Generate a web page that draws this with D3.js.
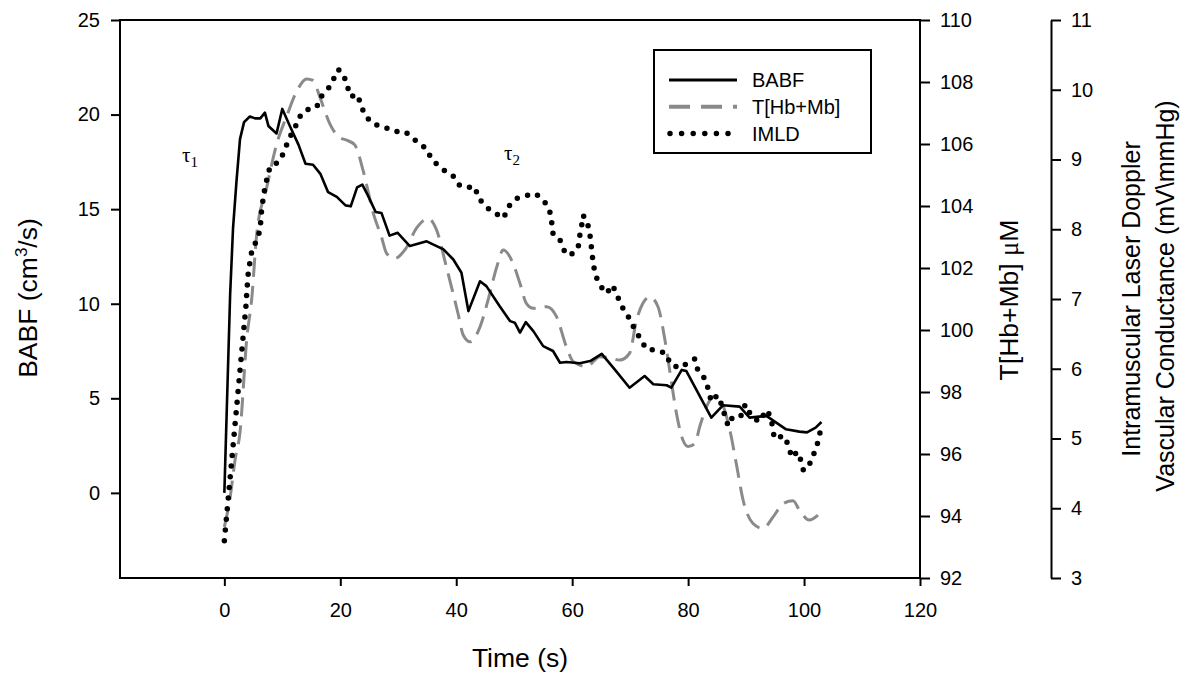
<!DOCTYPE html>
<html>
<head>
<meta charset="utf-8">
<script src="https://cdn.jsdelivr.net/npm/d3@7"></script>
<style>
  html, body { margin: 0; padding: 0; background: #fff; }
  svg { display: block; }
  text { font-family: "Liberation Sans", Arial, sans-serif; fill: #000; }
</style>
</head>
<body>
<svg id="chart" width="1185" height="677"></svg>
<script>
// ---------------- DATA ----------------
const xTicks = [0, 20, 40, 60, 80, 100, 120];
const leftTicks = [0, 5, 10, 15, 20, 25];
const rightTicks = [92, 94, 96, 98, 100, 102, 104, 106, 108, 110];
const farTicks = [3, 4, 5, 6, 7, 8, 9, 10, 11];

const seriesNames = ["BABF", "T[Hb+Mb]", "IMLD"];

// BABF (cm^3/s), left axis
const babfTime  = [0, 1.0, 1.5, 2.1, 2.7, 3.4, 4.4, 5.3, 6.2, 7.0, 7.6, 9.0, 10.0, 11.3, 12.8, 14.0, 15.3, 16.6, 17.9, 19.4, 20.9, 21.8, 22.9, 23.8, 24.8, 26.1, 27.1, 28.5, 29.9, 32.0, 34.9, 37.8, 39.5, 40.9, 42.1, 44.1, 45.2, 47.5, 49.3, 50.1, 51.0, 52.0, 53.3, 55.0, 56.7, 57.9, 59.0, 61.3, 63.1, 65.1, 67.4, 69.9, 72.5, 74.0, 76.3, 77.1, 78.9, 79.7, 84.0, 86.0, 88.9, 90.6, 93.5, 96.9, 99.2, 100.5, 102.0, 103.0];
const babfValue = [0, 10.5, 14.0, 16.5, 18.7, 19.6, 19.9, 19.8, 19.8, 20.1, 19.4, 19.0, 20.3, 19.4, 18.4, 17.4, 17.35, 16.85, 15.9, 15.65, 15.2, 15.15, 16.15, 16.3, 15.7, 14.85, 14.8, 13.6, 13.75, 13.05, 13.3, 12.87, 12.34, 11.64, 9.61, 11.19, 10.93, 9.87, 9.08, 9.0, 8.47, 9.03, 8.55, 7.76, 7.5, 6.88, 6.92, 6.85, 6.97, 7.35, 6.5, 5.56, 6.18, 5.74, 5.69, 5.56, 6.5, 6.44, 3.98, 4.63, 4.56, 3.98, 4.07, 3.36, 3.24, 3.2, 3.45, 3.75];

// T[Hb+Mb] (uM), right axis
const hbTime  = [0, 1.0, 1.84, 2.7, 3.86, 4.72, 5.59, 7.31, 9.03, 10.76, 12.48, 14.2, 15.3, 16.5, 18.2, 19.66, 21.4, 22.5, 24.0, 25.7, 27.1, 28.0, 29.4, 31.2, 33.2, 35.2, 36.6, 38.3, 40.3, 41.2, 42.4, 44.1, 45.5, 47.0, 48.1, 49.8, 51.0, 52.1, 53.3, 55.6, 57.3, 59.0, 60.2, 62.5, 64.8, 66.5, 68.2, 69.9, 71.1, 72.2, 73.4, 74.8, 76.0, 76.9, 78.0, 79.1, 80.0, 81.2, 82.0, 83.2, 84.3, 85.5, 87.2, 88.3, 89.5, 91.2, 92.9, 94.7, 96.4, 98.1, 99.2, 100.9, 102.4];
const hbValue = [93.65, 94.6, 95.8, 96.7, 99.7, 101.0, 103.1, 104.6, 106.0, 106.9, 107.7, 108.1, 108.05, 107.5, 106.65, 106.24, 106.1, 105.97, 105.1, 103.76, 103.0, 102.47, 102.31, 102.6, 103.3, 103.6, 103.23, 102.04, 100.54, 99.84, 99.62, 100.1, 100.97, 102.04, 102.58, 102.15, 101.5, 100.86, 100.7, 100.75, 100.43, 99.46, 98.98, 98.82, 99.14, 99.1, 99.03, 99.25, 100.32, 100.86, 101.07, 100.75, 99.68, 98.6, 97.3, 96.45, 96.24, 96.35, 96.88, 97.53, 97.85, 97.74, 96.77, 95.7, 94.5, 93.76, 93.6, 93.98, 94.4, 94.49, 94.19, 93.87, 94.03];

// IMLD (mV/mmHg), far right axis
const imldTime  = [0, 3.74, 3.86, 4.14, 4.72, 5.59, 6.16, 6.45, 7.02, 7.88, 9.48, 10.47, 11.03, 12.19, 12.76, 14.09, 15.93, 16.67, 17.83, 18.69, 19.66, 20.52, 21.21, 21.79, 23.0, 23.57, 24.38, 25.69, 27.41, 29.31, 31.16, 32.88, 34.9, 35.76, 37.48, 39.48, 40.64, 41.9, 43.22, 43.79, 45.12, 46.67, 48.22, 48.83, 50.38, 51.93, 53.74, 55.47, 56.24, 56.5, 56.72, 57.88, 58.57, 59.6, 61.03, 61.24, 61.62, 61.84, 62.45, 62.97, 63.22, 63.4, 63.62, 63.95, 64.66, 65.93, 66.97, 67.76, 68.52, 69.66, 70.64, 71.67, 72.79, 74.43, 76.16, 76.97, 78.57, 80.21, 81.16, 81.67, 83.05, 83.57, 84.0, 85.03, 85.76, 86.33, 86.9, 87.76, 89.21, 89.86, 90.93, 92.24, 93.57, 94.21, 94.6, 94.86, 96.5, 97.41, 97.83, 98.86, 99.43, 99.9, 101.28, 101.84, 102.53, 102.84];
const imldValue = [3.535, 6.914, 7.086, 7.39, 7.68, 7.85, 7.99, 8.30, 8.61, 8.90, 8.97, 9.14, 9.28, 9.45, 9.59, 9.71, 9.75, 9.90, 10.0, 10.13, 10.29, 10.23, 10.05, 9.90, 9.93, 9.77, 9.62, 9.51, 9.47, 9.40, 9.40, 9.28, 9.15, 9.0, 8.87, 8.76, 8.62, 8.60, 8.61, 8.455, 8.32, 8.23, 8.16, 8.31, 8.44, 8.48, 8.51, 8.37, 8.23, 8.08, 7.92, 7.85, 7.70, 7.62, 7.73, 7.88, 8.04, 8.20, 8.14, 7.98, 7.82, 7.67, 7.52, 7.36, 7.21, 7.08, 7.20, 7.05, 6.90, 6.75, 6.59, 6.44, 6.28, 6.27, 6.22, 6.06, 6.01, 6.10, 6.14, 5.98, 5.84, 5.67, 5.53, 5.62, 5.49, 5.33, 5.18, 5.32, 5.33, 5.49, 5.32, 5.24, 5.41, 5.31, 5.16, 5.0, 5.04, 4.885, 4.73, 4.81, 4.69, 4.54, 4.67, 4.82, 4.98, 5.13];

// ---------------- CHART ----------------
const svg = d3.select("#chart");
const L = 120, R = 920, T = 20, B = 578, FAR = 1051;

const x = d3.scaleLinear().domain([-18, 120]).range([L, R]);
const yL = d3.scaleLinear().domain([-4.5, 25]).range([B, T]);
const yR = d3.scaleLinear().domain([92, 110]).range([B, T]);
const yF = d3.scaleLinear().domain([3, 11]).range([B, T]);

const FS = 20;

function styleAxis(g) {
  g.selectAll("path.domain").attr("stroke", "#000").attr("stroke-width", 2);
  g.selectAll(".tick line").attr("stroke", "#000").attr("stroke-width", 2);
  g.selectAll(".tick text").style("font-family", '"Liberation Sans", Arial, sans-serif')
    .style("font-size", FS + "px").attr("fill", "#000");
}

// x axis
const gx = svg.append("g").attr("transform", `translate(0,${B})`)
  .call(d3.axisBottom(x).tickValues(xTicks).tickSize(8).tickPadding(17).tickSizeOuter(0));
styleAxis(gx); gx.select("path.domain").remove();

// left axis
const gl = svg.append("g").attr("transform", `translate(${L},0)`)
  .call(d3.axisLeft(yL).tickValues(leftTicks).tickSize(9).tickPadding(11).tickSizeOuter(0));
styleAxis(gl); gl.select("path.domain").remove();

// right axis
const gr = svg.append("g").attr("transform", `translate(${R},0)`)
  .call(d3.axisRight(yR).tickValues(rightTicks).tickSize(10).tickPadding(10).tickSizeOuter(0));
styleAxis(gr); gr.select("path.domain").remove();

// far axis
const gf = svg.append("g").attr("transform", `translate(${FAR},0)`)
  .call(d3.axisRight(yF).tickValues(farTicks).tickSize(10).tickPadding(10).tickSizeOuter(0));
styleAxis(gf);

// frame
svg.append("rect").attr("x", L).attr("y", T).attr("width", R - L).attr("height", B - T)
  .attr("fill", "none").attr("stroke", "#000").attr("stroke-width", 2);

// clip
svg.append("clipPath").attr("id", "plotclip").append("rect")
  .attr("x", L).attr("y", T).attr("width", R - L).attr("height", B - T);
const plot = svg.append("g").attr("clip-path", "url(#plotclip)");

// series
const hbData = hbTime.map((t, i) => [t, hbValue[i]]);
const babfData = babfTime.map((t, i) => [t, babfValue[i]]);
const imldData = imldTime.map((t, i) => [t, imldValue[i]]);

plot.append("path").datum(hbData)
  .attr("d", d3.line().x(d => x(d[0])).y(d => yR(d[1])).curve(d3.curveMonotoneX))
  .attr("fill", "none").attr("stroke", "#8a8a8a").attr("stroke-width", 3)
  .attr("stroke-dasharray", "19 9");

plot.append("path").datum(imldData)
  .attr("d", d3.line().x(d => x(d[0])).y(d => yF(d[1])))
  .attr("fill", "none").attr("stroke", "#000").attr("stroke-width", 5.5)
  .attr("stroke-linecap", "round").attr("stroke-dasharray", "0 10.7");

plot.append("path").datum(babfData)
  .attr("d", d3.line().x(d => x(d[0])).y(d => yL(d[1])))
  .attr("fill", "none").attr("stroke", "#000").attr("stroke-width", 2.6)
  .attr("stroke-linejoin", "round");

// legend
const lg = svg.append("g");
lg.append("rect").attr("x", 654).attr("y", 50).attr("width", 217).attr("height", 103)
  .attr("fill", "#fff").attr("stroke", "#000").attr("stroke-width", 2);
const legendStyles = [
  { stroke: "#000", w: 3, dash: null, cap: "butt" },
  { stroke: "#8a8a8a", w: 4, dash: "21 11", cap: "butt" },
  { stroke: "#000", w: 5.5, dash: "0 11.6", cap: "round" }
];
seriesNames.forEach((name, i) => {
  const yy = 80 + i * 26.7;
  const st = legendStyles[i];
  const ln = lg.append("line").attr("x1", i === 2 ? 670 : 669).attr("x2", 737).attr("y1", yy).attr("y2", yy)
    .attr("stroke", st.stroke).attr("stroke-width", st.w).attr("stroke-linecap", st.cap);
  if (st.dash) ln.attr("stroke-dasharray", st.dash);
  lg.append("text").attr("x", 752).attr("y", yy).attr("dy", "0.36em")
    .style("font-size", "20px").text(name);
});

// tau annotations
function tau(xp, yp, sub) {
  const t = svg.append("text").attr("x", xp).attr("y", yp)
    .style("font-family", '"Liberation Serif", "Times New Roman", serif').style("font-size", "21px");
  t.append("tspan").text("τ");
  t.append("tspan").attr("dy", 5).style("font-size", "15px").text(sub);
}
tau(182, 162, "1");
tau(504, 160, "2");

// axis titles
svg.append("text").attr("x", 520).attr("y", 667).attr("text-anchor", "middle")
  .style("font-size", "26.5px").text("Time (s)");

const lt = svg.append("text").attr("transform", "translate(37,298) rotate(-90)")
  .attr("text-anchor", "middle").style("font-size", "26.5px");
lt.append("tspan").text("BABF (cm");
lt.append("tspan").attr("dy", -10).style("font-size", "17px").text("3");
lt.append("tspan").attr("dy", 10).text("/s)");

const rt = svg.append("text").attr("transform", "translate(1018,300) rotate(-90)")
  .attr("text-anchor", "middle").style("font-size", "26.5px");
rt.append("tspan").text("T[Hb+Mb] ");
rt.append("tspan").style("font-family", '"Liberation Serif", "Times New Roman", serif').text("μ");
rt.append("tspan").text("M");

svg.append("text").attr("transform", "translate(1140,299) rotate(-90)")
  .attr("text-anchor", "middle").style("font-size", "25px").text("Intramuscular Laser Doppler");
svg.append("text").attr("transform", "translate(1174,296) rotate(-90)")
  .attr("text-anchor", "middle").style("font-size", "25px").text("Vascular Conductance (mV\\mmHg)");
</script>
</body>
</html>
